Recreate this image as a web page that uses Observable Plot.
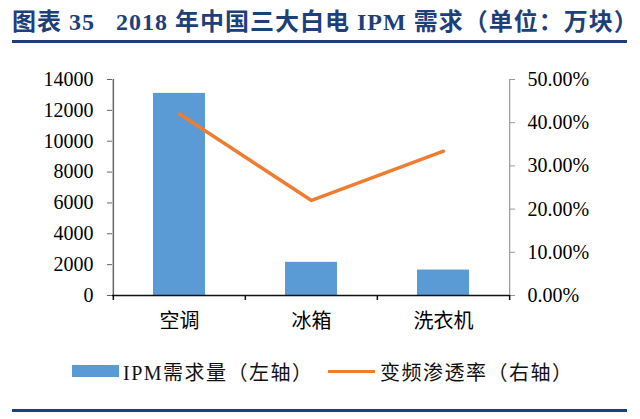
<!DOCTYPE html>
<html>
<head>
<meta charset="utf-8">
<script src="https://cdn.jsdelivr.net/npm/d3@7"></script>
<script src="https://cdn.jsdelivr.net/npm/@observablehq/plot@0.6"></script>
<style>
  html, body { margin: 0; padding: 0; background: #fff; width: 640px; height: 419px; overflow: hidden; }
  #title { position: absolute; left: 12px; top: 7px; font-family: "Liberation Serif", "Noto Sans CJK SC", serif; font-weight: bold;
           font-size: 24px; color: #1d3f7a; white-space: pre; line-height: 30px; letter-spacing: 1px; }
  #titleline { position: absolute; left: 12px; top: 40px; width: 615px; height: 3px; background: #1d3f7a; }
  #chart { position: absolute; left: 0; top: 50px; }
  #legend { position: absolute; left: 0; top: 358px; width: 640px; height: 26px; font-family: "Liberation Serif", "Noto Sans CJK SC", serif;
            font-size: 20px; color: #111; letter-spacing: 1.5px; }
  .item { position: absolute; top: 0; display: flex; align-items: center; height: 26px; white-space: nowrap; }
  .sw-bar { width: 47px; height: 12px; background: #5b9bd5; margin-right: 4px; }
  .sw-line { width: 47px; height: 3px; background: #ed7d31; margin-right: 5px; }
  #bottomline { position: absolute; left: 12px; top: 409px; width: 615px; height: 3px; background: #1d3f7a; }
</style>
</head>
<body>
<div id="title">图表 35   2018 年中国三大白电 IPM 需求（单位：万块）</div>
<div id="titleline"></div>
<div id="chart"></div>
<div id="legend">
  <div class="item" style="left:72px"><div class="sw-bar"></div><span>IPM需求量（左轴）</span></div>
  <div class="item" style="left:328px"><div class="sw-line"></div><span>变频渗透率（右轴）</span></div>
</div>
<div id="bottomline"></div>
<script>
const categories = ["空调", "冰箱", "洗衣机"];
const ipmDemand = [13100, 2150, 1650];
const inverterRate = [0.42, 0.22, 0.334];
const leftTicks = [0, 2000, 4000, 6000, 8000, 10000, 12000, 14000];
const rightTicks = [0, 0.1, 0.2, 0.3, 0.4, 0.5];
const leftMax = 14000, rightMax = 0.5;
const ratio = leftMax / rightMax;

const data = categories.map((c, i) => ({cat: c, demand: ipmDemand[i], rate: inverterRate[i]}));

const W = 640, H = 290, mL = 112, mR = 131, mT = 29, mB = 45;
const bw = (W - mL - mR) / categories.length;
const font = "'Liberation Serif', 'Noto Sans CJK SC', serif";

const chart = Plot.plot({
  width: W, height: H,
  marginLeft: mL, marginRight: mR, marginTop: mT, marginBottom: mB,
  style: {fontFamily: font, color: "#000", background: "#fff", overflow: "visible"},
  x: {domain: categories, padding: 0, axis: null},
  y: {domain: [0, leftMax], axis: null},
  marks: [
    Plot.barY(data, {x: "cat", y: "demand", fill: "#5b9bd5", insetLeft: 40, insetRight: 40}),
    Plot.ruleX([categories[0]], {y1: 0, y2: leftMax, dx: -bw / 2, stroke: "#666", strokeWidth: 1.5}),
    Plot.ruleX([categories[categories.length - 1]], {y1: 0, y2: leftMax, dx: bw / 2, stroke: "#999", strokeWidth: 1.2}),
    Plot.ruleY([0], {stroke: "#111", strokeWidth: 1.5}),
    Plot.axisY({anchor: "left", label: null, ticks: leftTicks, tickSize: 5, tickPadding: 14, fontSize: 20, stroke: "#666", tickFormat: d => String(d)}),
    Plot.axisY({anchor: "right", label: null, ticks: rightTicks.map(v => v * ratio), tickSize: 5, tickPadding: 13, fontSize: 20, stroke: "#999",
      tickFormat: d => (d / ratio * 100).toFixed(2) + "%"}),
    Plot.axisX({label: null, ticks: categories, text: null, tickSize: 5, dx: -bw / 2, stroke: "#111", strokeWidth: 1.5}),
    Plot.axisX({label: null, ticks: [categories[categories.length - 1]], text: null, tickSize: 5, dx: bw / 2, stroke: "#111", strokeWidth: 1.5}),
    Plot.axisX({label: null, ticks: categories, tickSize: 0, tickPadding: 18, fontSize: 20, fontFamily: "'Noto Sans CJK SC', sans-serif"}),
    Plot.line(data, {x: "cat", y: d => d.rate * ratio, stroke: "#ed7d31", strokeWidth: 3.5})
  ]
});
document.getElementById("chart").appendChild(chart);
</script>
</body>
</html>
